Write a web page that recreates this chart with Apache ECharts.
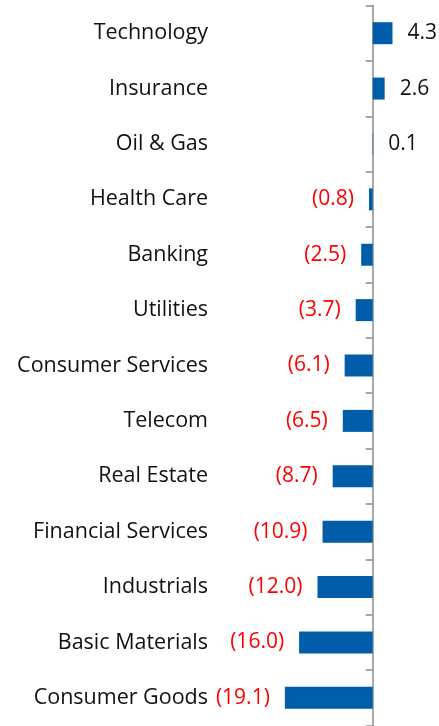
<!DOCTYPE html>
<html>
<head>
<meta charset="utf-8">
<script src="https://cdn.jsdelivr.net/npm/echarts@6/dist/echarts.min.js"></script>
<style>
  html, body { margin: 0; padding: 0; background: #fff; }
  #chart { width: 439px; height: 726px; }
</style>
</head>
<body>
<div id="chart"></div>
<script>
  // sectors, top to bottom
  var sectors = ["Technology", "Insurance", "Oil & Gas", "Health Care", "Banking", "Utilities",
    "Consumer Services", "Telecom", "Real Estate", "Financial Services", "Industrials",
    "Basic Materials", "Consumer Goods"];
  var returns = [4.3, 2.6, 0.1, -0.8, -2.5, -3.7, -6.1, -6.5, -8.7, -10.9, -12.0, -16.0, -19.1];

  var myChart = echarts.init(document.getElementById("chart"));

  var fmt = function (v) {
    return v < 0 ? "(" + Math.abs(v).toFixed(1) + ")" : v.toFixed(1);
  };

  var option = {
    animation: false,
    grid: {
      left: 280.7,
      right: 43.3,
      top: 5.5,
      bottom: 0.5
    },
    xAxis: {
      type: "value",
      min: -20,
      max: 5,
      show: false
    },
    yAxis: [
      {
        type: "category",
        data: sectors,
        inverse: true,
        axisLine: { onZero: true, lineStyle: { color: "#8c8c8c", width: 1.5 } },
        axisTick: { show: true, length: 7, lineStyle: { color: "#8c8c8c", width: 1.5 } },
        axisLabel: { show: false }
      },
      {
        type: "category",
        data: sectors,
        inverse: true,
        position: "left",
        axisLine: { show: false },
        axisTick: { show: false },
        axisLabel: {
          margin: 72.7,
          fontFamily: "Open Sans",
          fontSize: 21.5,
          color: "#111"
        }
      }
    ],
    series: [
      {
        type: "bar",
        yAxisIndex: 0,
        data: returns.map(function (v) {
          return {
            value: v,
            label: {
              position: v < 0 ? "left" : "right",
              color: v < 0 ? "#ff0000" : "#111"
            }
          };
        }),
        barWidth: 22,
        itemStyle: { color: "#005daa" },
        label: {
          show: true,
          distance: 15,
          fontFamily: "Open Sans",
          fontSize: 21,
          formatter: function (p) { return fmt(p.value); }
        }
      }
    ]
  };

  myChart.setOption(option);
</script>
</body>
</html>
